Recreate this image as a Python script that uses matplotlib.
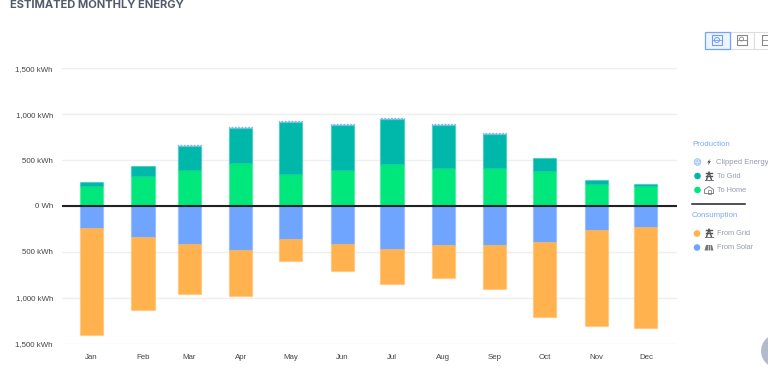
import matplotlib
matplotlib.use('Agg')
import matplotlib.pyplot as plt
from matplotlib.colors import to_rgba
from matplotlib.patches import Circle, Rectangle, Polygon
from matplotlib.lines import Line2D
from matplotlib.ticker import FuncFormatter

months = ['Jan', 'Feb', 'Mar', 'Apr', 'May', 'Jun', 'Jul', 'Aug', 'Sep', 'Oct', 'Nov', 'Dec']
# time axis, so the bars sit on the first of each month (day of year)
month_days = [0, 31, 59, 90, 120, 151, 181, 212, 243, 273, 304, 334]

to_home = [218, 323, 396, 468, 345, 396, 457, 410, 410, 378, 243, 218]
to_grid = [43, 113, 261, 378, 566, 486, 494, 472, 374, 141, 44, 18]
clipped = [0, 0, 8, 10, 10, 8, 8, 10, 8, 0, 0, 0]
from_solar = [236, 341, 410, 483, 363, 410, 472, 425, 425, 388, 258, 232]
from_grid = [1173, 788, 549, 501, 240, 298, 374, 359, 483, 817, 1046, 1101]

yticks = [-1500, -1000, -500, 0, 500, 1000, 1500]

GREEN = '#00e87b'
TEAL = '#00b8a9'
BLUE = '#6fa5ff'
ORANGE = '#ffb24d'
CLIP = '#7fb8f0'
W, H = 768, 377

plt.rcParams['font.family'] = ['Liberation Sans', 'DejaVu Sans']
fig = plt.figure(figsize=(W / 100, H / 100), dpi=100)
ax = fig.add_axes([62 / W, 1 - 343.6 / H, 615 / W, 275.4 / H])


def edge(c):
    return to_rgba(c, 0.35)


def stacked(vals, bottom, color):
    ax.bar(month_days, vals, width=13.9, bottom=bottom, color=color,
           edgecolor=edge(color), linewidth=1, zorder=3)


# production goes up
stacked(to_home, 0, GREEN)
stacked(to_grid, to_home, TEAL)
tops = [a + b for a, b in zip(to_home, to_grid)]
# clipped energy is only a sliver, dotted outline reads like the pattern fill
for d, c, t in zip(month_days, clipped, tops):
    if c > 0:
        ax.bar(d, c, width=13.9, bottom=t, fill=False, edgecolor=CLIP,
               linestyle=(0, (1.2, 1.2)), linewidth=1, zorder=4)

# consumption goes down
stacked([-v for v in from_solar], 0, BLUE)
stacked([-v for v in from_grid], [-v for v in from_solar], ORANGE)

ax.axhline(0, color='#222222', lw=1.5, zorder=5)

ax.set_xlim(-17.8, 352.7)
ax.set_ylim(-1500, 1500)
ax.set_yticks(yticks)
ax.yaxis.set_major_formatter(FuncFormatter(lambda v, p: f'{abs(v):,.0f} kWh' if v != 0 else '0 Wh'))
ax.set_xticks(month_days)
ax.set_xticklabels(months)
ax.tick_params(length=0, labelsize=5.7, labelcolor='#444444')
ax.tick_params(axis='x', pad=7.5)
ax.tick_params(axis='y', pad=6.5)
ax.grid(axis='y', color='#efefef', lw=1, zorder=0)
for s in ax.spines.values():
    s.set_visible(False)

fig.text(10 / W, 1 - 5 / H, 'ESTIMATED MONTHLY ENERGY', fontsize=8.0, fontweight='bold',
         color='#525a6b', family='Inter', va='center')

# overlay in pixel coords for the legend and the toolbar
ov = fig.add_axes([0, 0, 1, 1], zorder=10)
ov.set_xlim(0, W)
ov.set_ylim(H, 0)
ov.axis('off')


def icon_tower(x, y):
    ov.plot([x - 3, x + 3], [y - 3, y - 3], color='#555555', lw=1)
    ov.plot([x - 3, x + 3], [y - 0.5, y - 0.5], color='#555555', lw=1)
    ov.plot([x - 2.5, x, x + 2.5], [y + 4, y - 4, y + 4], color='#555555', lw=1)
    ov.plot([x - 4, x + 4], [y + 4, y + 4], color='#777777', lw=0.7)


def icon_home(x, y):
    ov.add_patch(Polygon([(x - 4.5, y + 3.5), (x - 4.5, y - 0.5), (x, y - 3.5), (x + 4.5, y - 0.5), (x + 4.5, y + 3.5)],
                         fill=False, ec='#777777', lw=0.6))
    ov.add_patch(Rectangle((x - 1.5, y), 3, 3.5, fill=False, ec='#777777', lw=0.5))


def icon_panel(x, y):
    ov.add_patch(Polygon([(x - 4.5, y + 3), (x - 3, y - 2.5), (x + 3, y - 2.5), (x + 4.5, y + 3)], color='#777777', lw=0))
    ov.plot([x - 1, x - 1], [y - 2.5, y + 3], color='white', lw=0.4)
    ov.plot([x + 1, x + 1], [y - 2.5, y + 3], color='white', lw=0.4)


def icon_bolt(x, y):
    ov.add_patch(Polygon([(x + 1.5, y - 3.5), (x - 1.8, y + 0.5), (x, y + 0.5), (x - 1.2, y + 3.5),
                          (x + 1.8, y - 0.7), (x, y - 0.7)], color='#333333', lw=0))


legend_col = '#959ab0'
ov.text(692, 144.5, 'Production', color='#7fa8f5', fontsize=5.7, va='center')
ov.text(692, 215.5, 'Consumption', color='#7fa8f5', fontsize=5.7, va='center')
ov.add_line(Line2D([692, 745], [204, 204], color='#222222', lw=1.1))

ov.add_patch(Circle((697.5, 162), 3.3, fc='#dbe8fb', ec='#9cc2f5', lw=0.6, hatch='......'))
icon_bolt(709, 162)
ov.text(716, 162, 'Clipped Energy', color=legend_col, fontsize=5.5, va='center')

ov.add_patch(Circle((697.5, 176), 3.3, color=TEAL, lw=0))
icon_tower(709, 176)
ov.text(717, 176, 'To Grid', color=legend_col, fontsize=5.3, va='center')

ov.add_patch(Circle((697.5, 190), 3.3, color=GREEN, lw=0))
icon_home(709, 190)
ov.text(717, 190, 'To Home', color=legend_col, fontsize=5.3, va='center')

ov.add_patch(Circle((697, 233.5), 3.3, color=ORANGE, lw=0))
icon_tower(709, 233)
ov.text(717, 233.5, 'From Grid', color=legend_col, fontsize=5.3, va='center')

ov.add_patch(Circle((697, 247.5), 3.3, color=BLUE, lw=0))
icon_panel(709, 247.5)
ov.text(717, 247.5, 'From Solar', color=legend_col, fontsize=5.3, va='center')

# toolbar buttons, third one runs off the edge
ov.add_patch(Rectangle((730, 31.5), 24, 17, fc='white', ec='#dddddd', lw=0.8))
ov.add_patch(Rectangle((754, 31.5), 24, 17, fc='white', ec='#dddddd', lw=0.8))
ov.add_patch(Rectangle((704.5, 31.5), 25, 17, fc='#eef4ff', ec='#6fa5ff', lw=0.9))
ov.add_patch(Rectangle((712, 35), 10, 10, fc='none', ec='#6fa0ee', lw=0.8))
ov.add_patch(Circle((717, 40), 2.5, fc='none', ec='#6fa0ee', lw=0.7))
ov.plot([712, 722], [40, 40], color='#6fa0ee', lw=0.6)
ov.add_patch(Rectangle((736.5, 35), 10, 10, fc='none', ec='#888888', lw=0.8))
ov.plot([736.5, 746.5], [40, 40], color='#888888', lw=0.6)
ov.add_patch(Circle((741.5, 39), 2, fc='none', ec='#888888', lw=0.6))
ov.add_patch(Rectangle((762, 35), 10, 10, fc='none', ec='#888888', lw=0.8))
ov.plot([762, 772], [40, 40], color='#888888', lw=0.6)

# grey circle at the bottom right corner
ov.add_patch(Circle((778, 351), 17, color='#b4b9cb', lw=0))

fig.savefig('out.png', dpi=100)
